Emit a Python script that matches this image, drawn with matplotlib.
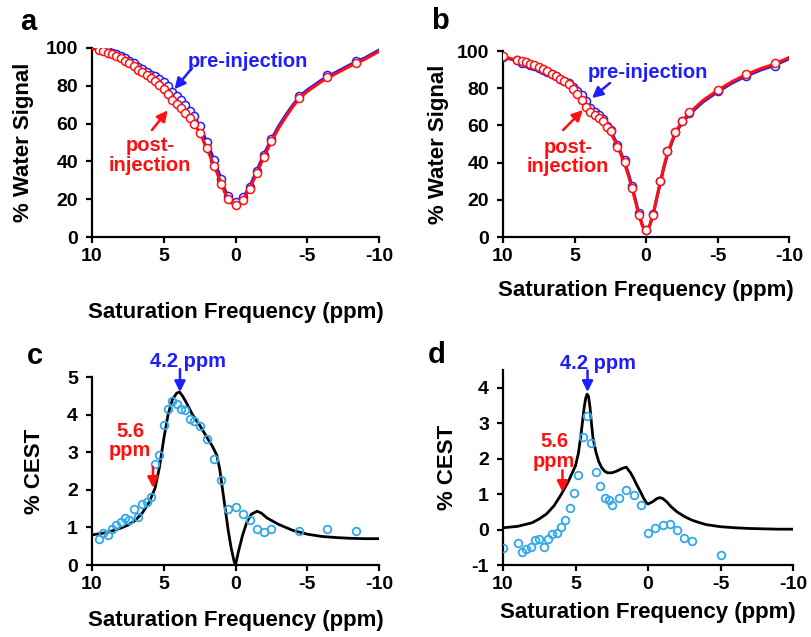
import matplotlib
matplotlib.use("Agg")
import matplotlib.pyplot as plt

plt.rcParams['font.family'] = ['Liberation Sans', 'DejaVu Sans']
plt.rcParams['font.weight'] = 'bold'
plt.rcParams['axes.unicode_minus'] = False

BLUE = '#1e1eff'
RED = '#ff1010'
CYAN = '#2fa8ec'

# ---------------- Panel a ----------------
a_x = [9.5, 9.2, 8.9, 8.6, 8.3, 8.0, 7.7, 7.4, 7.1, 6.8, 6.5, 6.2, 5.9, 5.6, 5.3, 5.0,
       4.7, 4.4, 4.1, 3.8, 3.5, 3.2, 2.9, 2.5, 2.0, 1.5, 1.0, 0.5, 0.0, -0.5, -1.0,
       -1.5, -2.0, -2.5, -4.4, -6.4, -8.4]
a_post = [99.0, 98.3, 97.5, 96.6, 95.6, 94.5, 93.3, 92.0, 90.3, 88.6, 87.1, 85.7, 84.0,
          82.6, 80.6, 78.5, 75.6, 72.5, 70.3, 68.3, 65.6, 63.0, 60.0, 55.2, 47.2, 37.8,
          28.3, 20.0, 17.0, 19.8, 25.5, 34.0, 42.5, 50.8, 73.5, 84.5, 92.0]
a_pre = [99.7, 99.2, 98.3, 97.5, 96.7, 95.6, 94.6, 93.2, 91.8, 89.9, 88.7, 87.4, 85.8,
         85.3, 83.5, 82.2, 79.8, 76.9, 74.6, 72.4, 69.7, 66.9, 63.8, 58.9, 50.5, 40.6,
         30.6, 21.5, 18.5, 21.2, 26.7, 35.0, 43.4, 51.8, 74.4, 85.5, 92.9]
a_fit_x = [10, 9, 8, 7, 6, 5, 4.5, 4, 3.5, 3, 2.5, 2, 1.5, 1, 0.75, 0.5, 0.25, 0,
           -0.25, -0.5, -0.75, -1, -1.5, -2, -2.5, -3, -3.5, -4, -4.5, -5, -6, -7,
           -8, -9, -10]
a_fit_post = [99.7, 98.0, 94.8, 90.2, 85.0, 78.7, 73.6, 69.6, 65.6, 61.2, 55.2, 47.0,
              37.8, 28.5, 23.5, 20.0, 17.8, 17.0, 17.8, 19.8, 22.5, 25.8, 34.0, 42.8,
              50.5, 57.5, 63.5, 69.0, 73.8, 77.0, 82.3, 86.5, 90.5, 94.0, 98.2]
a_fit_pre = [100.2, 98.9, 95.8, 91.4, 86.7, 82.0, 77.9, 74.2, 70.0, 65.2, 58.9, 50.4,
             40.9, 30.8, 25.1, 20.9, 18.2, 17.4, 18.2, 20.6, 23.6, 27.0, 35.4, 44.1,
             51.7, 58.6, 64.5, 69.9, 74.7, 77.8, 83.1, 87.2, 91.2, 94.7, 98.9]

# ---------------- Panel b ----------------
b_x = [10.0, 9.0, 8.7, 8.4, 8.1, 7.8, 7.5, 7.2, 6.9, 6.6, 6.3, 6.0, 5.7, 5.4, 5.1, 4.8,
       4.5, 4.2, 3.9, 3.6, 3.3, 3.0, 2.7, 2.45, 2.0, 1.5, 1.0, 0.5, 0.0, -0.5, -1.0,
       -1.5, -2.0, -2.5, -3.0, -5.0, -7.0, -9.0]
b_post = [97.1, 95.3, 94.4, 93.9, 93.2, 92.5, 91.4, 90.1, 89.0, 87.6, 86.4, 85.0, 83.7,
          82.2, 79.7, 76.7, 73.5, 70.0, 67.2, 65.4, 64.2, 62.5, 59.0, 56.8, 48.4, 40.3,
          26.5, 12.0, 3.6, 12.0, 30.1, 46.0, 56.5, 62.5, 67.0, 79.0, 87.5, 93.5]
b_pre = [96.6, 94.9, 93.8, 93.3, 92.7, 92.2, 91.1, 89.6, 88.7, 87.5, 86.3, 85.1, 84.0,
         82.8, 80.7, 78.3, 76.1, 73.2, 69.6, 67.0, 65.4, 63.4, 59.8, 57.5, 49.3, 41.4,
         27.5, 12.7, 3.5, 12.1, 30.2, 46.2, 56.5, 62.3, 66.7, 78.3, 86.3, 92.0]
b_fit_x = [10, 9.5, 9, 8, 7, 6, 5.5, 5, 4.5, 4.2, 4, 3.5, 3, 2.5, 2, 1.5, 1.25, 1, 0.75,
           0.5, 0.25, 0, -0.25, -0.5, -0.75, -1, -1.25, -1.5, -2, -2.5, -3, -4, -5, -6,
           -7, -8, -9, -10]
b_fit_post = [97.0, 96.0, 95.0, 93.0, 89.5, 85.0, 82.5, 79.0, 74.0, 70.5, 68.5, 65.0,
              62.0, 56.5, 49.0, 39.5, 33.5, 27.0, 19.5, 12.0, 6.0, 3.3, 6.0, 12.0, 21.0,
              29.5, 38.0, 45.0, 55.5, 62.0, 66.5, 73.5, 78.8, 83.5, 87.3, 90.5, 93.0, 96.5]
b_fit_pre = [96.7, 95.7, 94.8, 92.9, 89.6, 85.4, 83.3, 80.5, 76.5, 73.0, 70.5, 66.3,
             63.0, 57.5, 49.8, 40.5, 34.5, 28.0, 20.3, 12.5, 6.3, 3.5, 6.0, 12.0, 20.8,
             29.0, 37.3, 44.3, 54.7, 61.2, 65.7, 72.7, 78.0, 82.7, 86.5, 89.7, 92.3, 95.8]

# ---------------- Panel c ----------------
c_x = a_x
c_cest = [0.68, 0.86, 0.81, 0.95, 1.06, 1.15, 1.26, 1.21, 1.48, 1.28, 1.61, 1.68, 1.81,
          2.68, 2.92, 3.72, 4.16, 4.35, 4.27, 4.15, 4.12, 3.88, 3.82, 3.69, 3.34, 2.83,
          2.26, 1.48, 1.55, 1.35, 1.21, 0.97, 0.88, 0.97, 0.91, 0.97, 0.91]
c_fit_x = [10, 9.5, 9, 8.5, 8, 7.5, 7, 6.5, 6, 5.6, 5.3, 5.0, 4.7, 4.4, 4.1, 3.9, 3.7,
           3.4, 3.0, 2.5, 2.0, 1.6, 1.3, 1.1, 0.9, 0.7, 0.5, 0.3, 0.1, 0.0, -0.2, -0.5,
           -0.8, -1.1, -1.5, -1.8, -2.2, -3, -4, -5, -6, -7, -8, -9, -10]
c_fit = [0.80, 0.83, 0.86, 0.92, 0.98, 1.06, 1.18, 1.38, 1.68, 2.05, 2.6, 3.35, 4.0,
         4.4, 4.57, 4.6, 4.5, 4.3, 4.0, 3.72, 3.4, 3.15, 2.92, 2.55, 2.0, 1.45, 0.9,
         0.45, 0.1, 0.0, 0.35, 0.8, 1.15, 1.35, 1.43, 1.38, 1.25, 1.08, 0.92, 0.82,
         0.76, 0.73, 0.71, 0.70, 0.70]

# ---------------- Panel d ----------------
d_x = [10.0, 9.0, 8.7, 8.4, 8.1, 7.8, 7.5, 7.2, 6.9, 6.6, 6.3, 6.0, 5.7, 5.4, 5.1, 4.8,
       4.5, 4.2, 3.9, 3.6, 3.3, 3.0, 2.7, 2.45, 2.0, 1.5, 1.0, 0.5, 0.0, -0.5, -1.0,
       -1.5, -2.0, -2.5, -3.0, -5.0]
d_cest = [-0.51, -0.37, -0.62, -0.56, -0.48, -0.30, -0.27, -0.48, -0.27, -0.13, -0.09,
          0.08, 0.27, 0.61, 1.04, 1.55, 2.61, 3.20, 2.44, 1.63, 1.23, 0.88, 0.83, 0.69,
          0.90, 1.11, 0.97, 0.69, -0.09, 0.05, 0.13, 0.15, -0.02, -0.23, -0.32, -0.72]
d_fit_x = [10, 9, 8, 7.5, 7, 6.5, 6, 5.5, 5, 4.8, 4.6, 4.4, 4.3, 4.2, 4.1, 4.0, 3.9, 3.8,
           3.6, 3.4, 3.2, 3.0, 2.8, 2.5, 2.2, 2.0, 1.8, 1.5, 1.2, 1.0, 0.8, 0.5, 0.3,
           0.1, 0.0, -0.3, -0.6, -0.8, -1.0, -1.3, -1.6, -2.0, -2.5, -3.0, -3.5, -4,
           -5, -6, -7, -8, -9, -10]
d_fit = [0.05, 0.09, 0.19, 0.3, 0.44, 0.66, 0.98, 1.35, 1.8, 2.15, 2.75, 3.45, 3.7,
         3.82, 3.75, 3.45, 3.0, 2.6, 2.2, 1.92, 1.75, 1.65, 1.6, 1.6, 1.64, 1.68, 1.72,
         1.76, 1.6, 1.45, 1.28, 1.05, 0.88, 0.75, 0.72, 0.78, 0.87, 0.9, 0.88, 0.78,
         0.64, 0.5, 0.37, 0.27, 0.2, 0.14, 0.08, 0.05, 0.03, 0.02, 0.01, 0.01]

x_ticks = [10, 5, 0, -5, -10]

fig = plt.figure(figsize=(8.11, 6.37), dpi=100)
W, H = 811, 637


def make_ax(left, right, top, bottom):
    return fig.add_axes([left / W, 1 - bottom / H, (right - left) / W, (bottom - top) / H])


def style(ax, ylim, yticks, ylabel, xlabel_y, ylabel_x):
    ax.set_xlim(10, -10)
    ax.set_ylim(*ylim)
    ax.set_xticks(x_ticks)
    ax.set_xticklabels([str(t) for t in x_ticks])
    ax.set_yticks(yticks)
    for s in ['top', 'right']:
        ax.spines[s].set_visible(False)
    for s in ['left', 'bottom']:
        ax.spines[s].set_linewidth(1.6)
    ax.tick_params(axis='both', direction='out', length=4, width=1.6, labelsize=14)
    ax.tick_params(axis='x', pad=4)
    ax.tick_params(axis='y', pad=6)
    for lab in ax.get_xticklabels() + ax.get_yticklabels():
        lab.set_fontweight('bold')
    ax.set_xlabel('Saturation Frequency (ppm)', fontsize=16, fontweight='bold')
    ax.set_ylabel(ylabel, fontsize=16, fontweight='bold')
    ax.xaxis.set_label_coords(0.5, xlabel_y)
    ax.yaxis.set_label_coords(ylabel_x, 0.5)
    ax.xaxis.label.set_va('center')
    ax.yaxis.label.set_va('center')


def arrow(ax, tail, head, color):
    ax.annotate('', xy=head, xytext=tail,
                arrowprops=dict(arrowstyle='-|>', color=color, lw=1.8,
                                mutation_scale=16, shrinkA=0, shrinkB=0),
                annotation_clip=False)


mk = dict(marker='o', ms=5.8, mfc='white', mew=1.1, ls='none')
ck = dict(marker='o', ms=5.5, mfc='none', mew=1.3, ls='none')

# Panel a
ax = make_ax(92, 379, 48, 237)
ax.plot(a_fit_x, a_fit_pre, color=BLUE, lw=2.2, zorder=2)
ax.plot(a_x, a_pre, mec=BLUE, zorder=3, **mk)
ax.plot(a_fit_x, a_fit_post, color=RED, lw=2.2, zorder=4)
ax.plot(a_x, a_post, mec=RED, zorder=5, **mk)
style(ax, (0, 100), [0, 20, 40, 60, 80, 100], '% Water Signal', -0.40, -0.24)
ax.text(-0.87, 92.6, 'pre-injection', color=BLUE, fontsize=14.5, fontweight='bold',
        ha='center', va='center')
arrow(ax, (3.03, 89.4), (4.25, 78.2), BLUE)
ax.text(5.96, 43.0, 'post-\ninjection', color=RED, fontsize=14.5, fontweight='bold',
        ha='center', va='center', linespacing=1.05)
arrow(ax, (5.82, 56.6), (4.72, 67.0), RED)
fig.text(28 / W, 1 - 22 / H, 'a', fontsize=21, fontweight='bold', ha='center', va='center')

# Panel b
ax = make_ax(503, 789, 51, 237)
ax.plot(b_fit_x, b_fit_pre, color=BLUE, lw=2.2, zorder=2)
ax.plot(b_x, b_pre, mec=BLUE, zorder=3, **mk)
ax.plot(b_fit_x, b_fit_post, color=RED, lw=2.2, zorder=4)
ax.plot(b_x, b_post, mec=RED, zorder=5, **mk)
style(ax, (0, 100), [0, 20, 40, 60, 80, 100], '% Water Signal', -0.285, -0.227)
ax.text(-0.14, 88.7, 'pre-injection', color=BLUE, fontsize=14.5, fontweight='bold',
        ha='center', va='center')
arrow(ax, (2.52, 82.8), (3.78, 74.7), BLUE)
ax.text(5.45, 43.0, 'post-\ninjection', color=RED, fontsize=14.5, fontweight='bold',
        ha='center', va='center', linespacing=1.05)
arrow(ax, (5.80, 57.5), (4.41, 68.3), RED)
fig.text(440 / W, 1 - 21 / H, 'b', fontsize=21, fontweight='bold', ha='center', va='center')

# Panel c
ax = make_ax(92, 379, 377, 565)
ax.plot(c_fit_x, c_fit, color='black', lw=2.0, zorder=2)
ax.plot(c_x, c_cest, mec=CYAN, zorder=3, **ck)
style(ax, (0, 5), [0, 1, 2, 3, 4, 5], '% CEST', -0.293, -0.199)
ax.text(3.31, 5.4, '4.2 ppm', color=BLUE, fontsize=14.5, fontweight='bold',
        ha='center', va='center')
arrow(ax, (3.87, 5.21), (3.87, 4.6), BLUE)
ax.text(7.35, 3.30, '5.6\nppm', color=RED, fontsize=14.5, fontweight='bold',
        ha='center', va='center', linespacing=1.05)
arrow(ax, (5.75, 2.61), (5.75, 2.05), RED)
fig.text(35 / W, 1 - 356 / H, 'c', fontsize=21, fontweight='bold', ha='center', va='center')

# Panel d
ax = make_ax(503, 793, 370, 565)
ax.plot(d_fit_x, d_fit, color='black', lw=2.0, zorder=2)
ax.plot(d_x, d_cest, mec=CYAN, zorder=3, **ck)
style(ax, (-1, 4.5), [-1, 0, 1, 2, 3, 4], '% CEST', -0.246, -0.193)
ax.text(3.45, 4.68, '4.2 ppm', color=BLUE, fontsize=14.5, fontweight='bold',
        ha='center', va='center')
arrow(ax, (4.17, 4.49), (4.17, 3.88), BLUE)
ax.text(6.48, 2.21, '5.6\nppm', color=RED, fontsize=14.5, fontweight='bold',
        ha='center', va='center', linespacing=1.05)
arrow(ax, (5.9, 1.67), (5.9, 1.06), RED)
fig.text(437 / W, 1 - 355 / H, 'd', fontsize=21, fontweight='bold', ha='center', va='center')

fig.savefig('out.png', dpi=100)
